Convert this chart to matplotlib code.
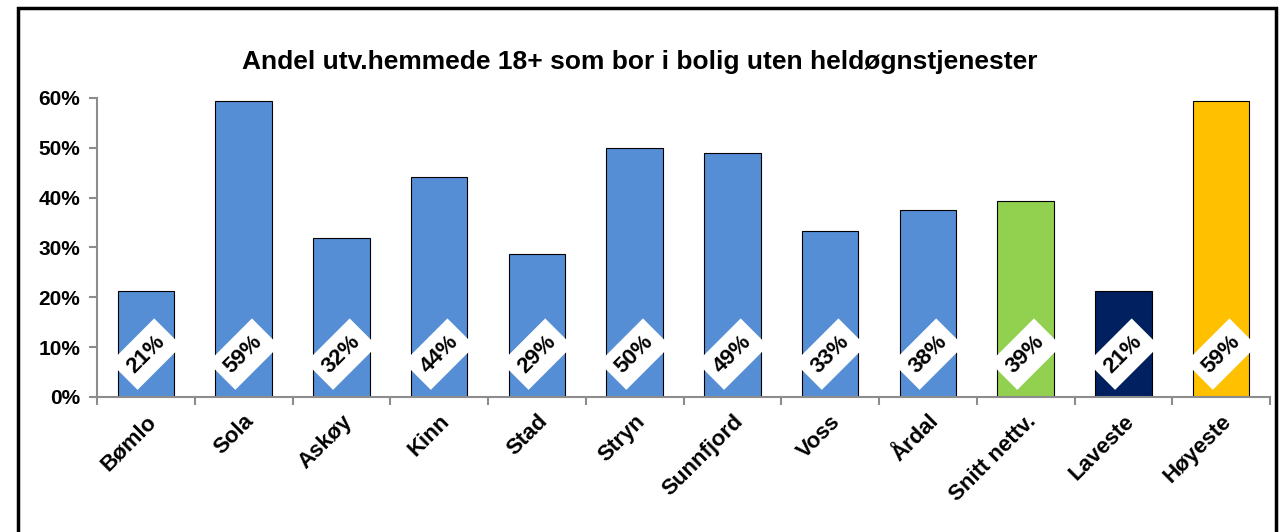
import numpy as np
import matplotlib.pyplot as plt
from matplotlib.patches import Rectangle

plt.rcParams['font.family'] = ['Liberation Sans', 'DejaVu Sans']
plt.rcParams['font.weight'] = 'bold'

kommuner = ['Bømlo', 'Sola', 'Askøy', 'Kinn', 'Stad', 'Stryn', 'Sunnfjord',
            'Voss', 'Årdal', 'Snitt nettv.', 'Laveste', 'Høyeste']
andel    = [0.213, 0.594, 0.319, 0.441, 0.286, 0.500, 0.490,
            0.333, 0.375, 0.394, 0.213, 0.594]
farger   = ['#558ED5'] * 9 + ['#92D050', '#002060', '#FFC000']

fig = plt.figure(figsize=(12.81, 5.32), dpi=100)
ax  = fig.add_axes([97/1281, 1 - 397/532, (1270-97)/1281, 299/532])

# ramme rundt hele figuren
fig.patches.append(Rectangle((18/1281, -0.1), (1276-18)/1281, 1.1 - 8/532,
                             transform=fig.transFigure, fill=False,
                             edgecolor='black', linewidth=2.5))

x = np.arange(len(kommuner))
ax.bar(x, andel, width=0.58, color=farger, edgecolor='black', linewidth=0.8, zorder=2)

for xi, v in zip(x, andel):
    ax.text(xi, 0.086, f'{v*100:.0f}%', rotation=45, ha='center', va='center',
            fontsize=16, fontweight='bold', zorder=3,
            bbox=dict(boxstyle='square,pad=0.4', facecolor='white', edgecolor='none'))

ax.set_xlim(-0.5, len(kommuner) - 0.5)
ax.set_ylim(0, 0.6)
ax.set_yticks(np.arange(0, 0.61, 0.1))
ax.set_yticklabels([f'{int(round(t*100))}%' for t in np.arange(0, 0.61, 0.1)],
                   fontsize=15, fontweight='bold')
ax.set_xticks(x)
ax.set_xticklabels(kommuner, rotation=45, ha='right', rotation_mode='anchor',
                   fontsize=16, fontweight='bold')
ax.tick_params(axis='x', length=0, pad=10)
ax.set_xticks(np.arange(-0.5, len(kommuner)), minor=True)
ax.tick_params(axis='x', which='minor', length=6, color='#8c8c8c', width=1.5)
ax.tick_params(axis='y', length=6, color='#8c8c8c', width=1.5, pad=6)

for s in ['top', 'right']:
    ax.spines[s].set_visible(False)
for s in ['left', 'bottom']:
    ax.spines[s].set_color('#8c8c8c')
    ax.spines[s].set_linewidth(1.5)

fig.text(640/1281, 1 - 62/532, 'Andel utv.hemmede 18+ som bor i bolig uten heldøgnstjenester',
         ha='center', va='center', fontsize=19, fontweight='bold')

fig.savefig('out.png', dpi=100)
